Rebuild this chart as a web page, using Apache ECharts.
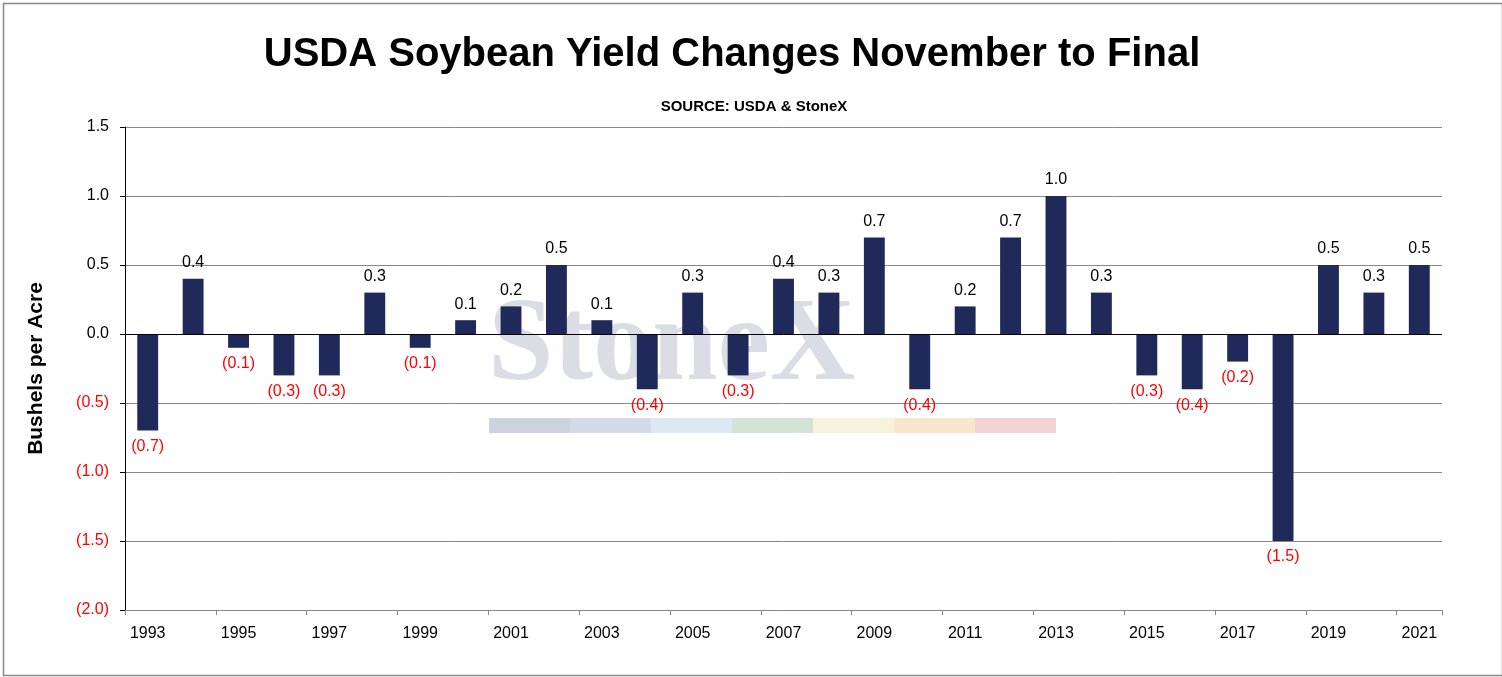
<!DOCTYPE html><html><head><meta charset="utf-8"><script src="https://cdn.jsdelivr.net/npm/echarts@6/dist/echarts.min.js"></script>
<style>html,body{margin:0;padding:0;background:#fff;overflow:hidden}#c{width:1502px;height:677px}</style></head><body><div id="c"></div>
<script>
const years=[];for(let y=1993;y<=2021;y++)years.push(String(y));
const values=[-0.7,0.4,-0.1,-0.3,-0.3,0.3,-0.1,0.1,0.2,0.5,0.1,-0.4,0.3,-0.3,0.4,0.3,0.7,-0.4,0.2,0.7,1.0,0.3,-0.3,-0.4,-0.2,-1.5,0.5,0.3,0.5];
const fmt=v=>v<0?'('+Math.abs(v).toFixed(1)+')':v.toFixed(1);
const ch=echarts.init(document.getElementById('c'));
const stripeCols=['#cdd3dc','#d3dbe8','#dde9f2','#d3e3d8','#f5f3dc','#f8e6cc','#f2d4d4'];
const g=[{type:'rect',left:1,top:1,shape:{width:1499,height:672},style:{fill:'none',stroke:'#888',lineWidth:1.5}},
{type:'text',left:488,top:290,z:-1,style:{text:'StoneX',font:'bold 118px "Liberation Serif"',fill:'#dadee4'}}];
stripeCols.forEach((c,i)=>g.push({type:'rect',left:489+i*81,top:418,z:-1,shape:{width:81,height:15},style:{fill:c}}));
ch.setOption({animation:false,
title:[{text:'USDA Soybean Yield Changes November to Final',left:727,textAlign:'center',top:30,textStyle:{fontFamily:'Liberation Sans',fontSize:40,fontWeight:'bold',color:'#000'}},
{text:'SOURCE: USDA & StoneX',left:749,textAlign:'center',top:94,textStyle:{fontFamily:'Liberation Sans',fontSize:15,fontWeight:'bold',color:'#000'}}],
graphic:g,
grid:{left:125,right:60,top:127,bottom:67},
xAxis:{type:'category',data:years,axisLine:{onZero:false,lineStyle:{color:'#888'}},axisTick:{show:true,alignWithLabel:false,length:5,lineStyle:{color:'#888'}},
axisLabel:{interval:1,color:'#000',fontFamily:'Liberation Sans',fontSize:16,margin:16}},
yAxis:{type:'value',min:-2,max:1.5,interval:0.5,name:'Bushels per Acre',nameLocation:'middle',nameGap:78,nameTextStyle:{fontFamily:'Liberation Sans',fontSize:21,fontWeight:'bold',color:'#000'},
axisLine:{show:true,lineStyle:{color:'#000'}},axisTick:{show:true,lineStyle:{color:'#000'}},splitLine:{lineStyle:{color:'#888'}},
axisLabel:{fontFamily:'Liberation Sans',fontSize:16,margin:16,formatter:v=>fmt(v),color:v=>v<0?'#ff0000':'#000'}},
series:[{type:'bar',barWidth:'46%',itemStyle:{color:'#1f2a5a'},
data:values.map(v=>({value:v,label:{show:true,position:v<0?'bottom':'top',color:v<0?'#ff0000':'#000',fontFamily:'Liberation Sans',fontSize:16,distance:8,formatter:()=>fmt(v)}})),
markLine:{silent:true,symbol:'none',label:{show:false},lineStyle:{color:'#000',type:'solid',width:1},data:[{yAxis:0}]}}]
});
</script></body></html>
